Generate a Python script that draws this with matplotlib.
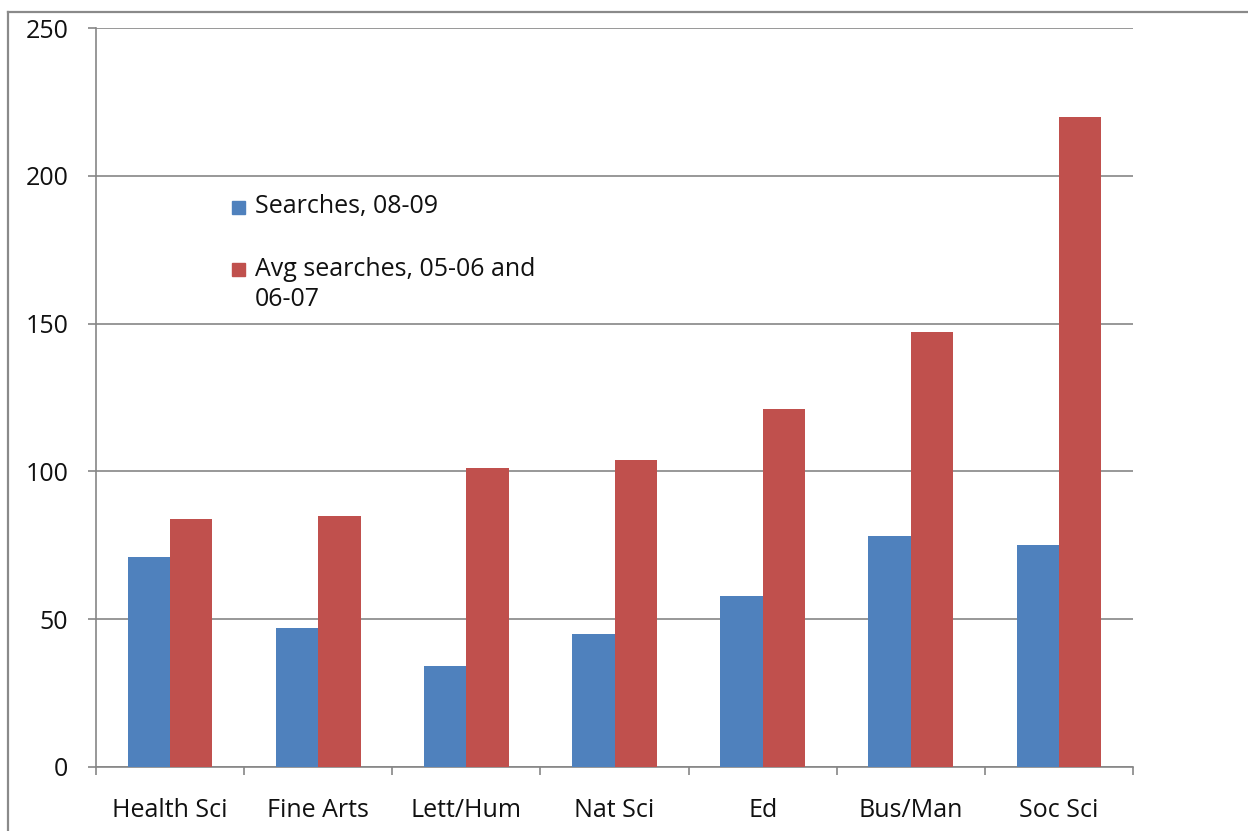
import matplotlib
matplotlib.use("Agg")
import matplotlib.pyplot as plt
import numpy as np
from matplotlib.lines import Line2D

categories = ["Health Sci", "Fine Arts", "Lett/Hum", "Nat Sci", "Ed", "Bus/Man", "Soc Sci"]
searches_0809 = [71, 47, 34, 45, 58, 78, 75]
avg_0507 = [84, 85, 101, 104, 121, 147, 220]
yticks = [0, 50, 100, 150, 200, 250]
series_names = ["Searches, 08-09", "Avg searches, 05-06 and\n06-07"]

plt.rcParams['font.family'] = ['Open Sans', 'DejaVu Sans']

fig = plt.figure(figsize=(12.48, 8.31), dpi=100)
ax = fig.add_axes([96/1248, 1-767/831, (1133-96)/1248, (767-28)/831])

blue = "#4F81BD"
red = "#C0504D"
grid = "#868686"
txt = "#111111"
fs = 18

x = np.arange(len(categories))
w = 1/3.5
ax.bar(x - w/2, searches_0809, width=w, color=blue, zorder=3)
ax.bar(x + w/2, avg_0507, width=w, color=red, zorder=3)

ax.set_xlim(-0.5, len(categories) - 0.5)
ax.set_ylim(0, 250)
ax.set_yticks(yticks)
ax.set_yticklabels([str(v) for v in yticks])
ax.yaxis.grid(True, color=grid, linewidth=1.2, zorder=0)
ax.set_xticks(x)
ax.set_xticklabels(categories)
ax.set_xticks(np.arange(len(categories) + 1) - 0.5, minor=True)
ax.tick_params(axis='x', which='major', length=0, pad=22, labelsize=fs, colors=txt)
ax.tick_params(axis='x', which='minor', length=6, width=1.2, color=grid)
ax.tick_params(axis='y', length=6, width=1.2, color=grid, pad=14, labelsize=fs, labelcolor=txt)

for s in ['top', 'right']:
    ax.spines[s].set_visible(False)
for s in ['left', 'bottom']:
    ax.spines[s].set_color(grid)
    ax.spines[s].set_linewidth(1.2)

# legend
fig.patches.append(plt.Rectangle((232/1248, 1-214/831), 13/1248, 13/831,
                                 transform=fig.transFigure, color=blue, figure=fig))
fig.patches.append(plt.Rectangle((232/1248, 1-276/831), 13/1248, 13/831,
                                 transform=fig.transFigure, color=red, figure=fig))
fig.text(255/1248, 1-207/831, series_names[0], fontsize=fs, va='center', ha='left', color=txt)
fig.text(255/1248, 1-257/831, series_names[1], fontsize=fs, va='top', ha='left', color=txt,
         linespacing=1.25)

# outer chart frame
fig.add_artist(Line2D([8/1248, 8/1248], [0, 1-12/831], transform=fig.transFigure, color="#8a8a8a", linewidth=1.6))
fig.add_artist(Line2D([8/1248, 1], [1-12/831, 1-12/831], transform=fig.transFigure, color="#8a8a8a", linewidth=1.6))

fig.savefig("out.png", dpi=100)
